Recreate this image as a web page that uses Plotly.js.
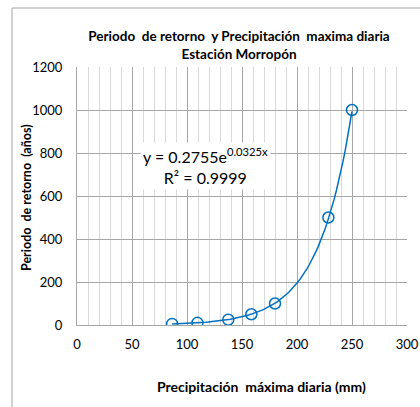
<!DOCTYPE html>
<html>
<head>
<meta charset="utf-8">
<script src="https://cdn.plot.ly/plotly-3.0.1.min.js"></script>
<style>html,body{margin:0;padding:0;background:#fff;}#chart{width:420px;height:407px;}</style>
</head>
<body>
<div id="chart"></div>
<script>
// Data
const precipitacion = [86.5, 109.5, 137.5, 158.5, 180, 228.5, 250];   // mm
const periodoRetorno = [5, 10, 25, 50, 100, 500, 1000];               // años
const xTicks = [0, 50, 100, 150, 200, 250, 300];
const yTicks = [0, 200, 400, 600, 800, 1000, 1200];
const equationLabel = 'y = 0.2755e<sup>0.0325x</sup>';
const r2Label = 'R² = 0.9999';

// Exponential trendline (least squares on ln y), as the spreadsheet does
const n = precipitacion.length;
const ly = periodoRetorno.map(v => Math.log(v));
const mx = precipitacion.reduce((s, v) => s + v, 0) / n;
const my = ly.reduce((s, v) => s + v, 0) / n;
let sxy = 0, sxx = 0;
for (let i = 0; i < n; i++) { sxy += (precipitacion[i] - mx) * (ly[i] - my); sxx += (precipitacion[i] - mx) ** 2; }
const b = sxy / sxx, lnA = my - b * mx;
const xMin = Math.min(...precipitacion), xMax = Math.max(...precipitacion);
const trendX = [], trendY = [];
for (let k = 0; k <= 80; k++) { const x = xMin + (xMax - xMin) * k / 80; trendX.push(x); trendY.push(Math.exp(lnA + b * x)); }

const blue = '#0070C0';
const font = 'Lato, "Open Sans", sans-serif';

const traces = [
  { x: trendX, y: trendY, mode: 'lines', line: { color: blue, width: 1.5 }, hoverinfo: 'skip', showlegend: false },
  { x: precipitacion, y: periodoRetorno, mode: 'markers',
    marker: { symbol: 'circle-open', size: 11, color: blue, line: { color: blue, width: 1.5 } }, showlegend: false }
];

const L = 77, R = 13, T = 67, B = 82, W = 420, H = 407;
const pw = W - L - R, ph = H - T - B;
const px = v => (v - L) / pw;
const py = v => (H - B - v) / ph;

const layout = {
  width: W, height: H,
  margin: { l: L, r: R, t: T, b: B },
  paper_bgcolor: '#fff', plot_bgcolor: '#fff',
  font: { family: font, size: 13, color: '#000' },
  showlegend: false,
  title: { text: '<b>Periodo  de retorno  y Precipitación  maxima diaria</b><br><b>Estación Morropón</b>',
           font: { family: font, size: 13.5, color: '#000' }, x: px(239), xref: 'paper', xanchor: 'center',
           y: 1 - 41 / H, yref: 'container', yanchor: 'middle' },
  xaxis: {
    range: [0, 300], tickvals: xTicks, ticktext: xTicks.map(String),
    showgrid: true, gridcolor: '#a6a6a6', gridwidth: 1,
    minor: { dtick: 10, showgrid: true, gridcolor: '#d9d9d9', gridwidth: 1 },
    showline: true, linecolor: '#a6a6a6', linewidth: 1, zeroline: false,
    ticks: '', ticklabelstandoff: 7, tickfont: { family: font, size: 13, color: '#000' }, fixedrange: true
  },
  yaxis: {
    range: [0, 1200], tickvals: yTicks, ticktext: yTicks.map(String),
    showgrid: true, gridcolor: '#a6a6a6', gridwidth: 1,
    showline: true, linecolor: '#a6a6a6', linewidth: 1, zeroline: false,
    ticks: '', ticklabelstandoff: 11, tickfont: { family: font, size: 13, color: '#000' }, fixedrange: true
  },
  shapes: [
    { type: 'rect', xref: 'paper', yref: 'paper', x0: px(12), x1: px(430), y0: py(420), y1: py(8),
      line: { color: '#a6a6a6', width: 1 }, fillcolor: 'rgba(0,0,0,0)', layer: 'below' }
  ],
  annotations: [
    { xref: 'paper', yref: 'paper', x: px(26), y: py(198), text: '<b>Periodo  de retorno  (años)</b>', textangle: -90,
      showarrow: false, font: { family: font, size: 12.5, color: '#000' }, xanchor: 'center', yanchor: 'middle' },
    { xref: 'paper', yref: 'paper', x: px(261), y: py(386), text: '<b>Precipitación  máxima diaria (mm)</b>',
      showarrow: false, font: { family: font, size: 14, color: '#000' }, xanchor: 'center', yanchor: 'middle' },
    { xref: 'paper', yref: 'paper', x: px(205), y: py(166), text: equationLabel + '<br>' + r2Label,
      showarrow: false, font: { family: font, size: 16, color: '#000' }, bgcolor: '#fff', borderpad: 2,
      xanchor: 'center', yanchor: 'middle', align: 'center' }
  ]
};

Plotly.newPlot('chart', traces, layout, { displayModeBar: false, staticPlot: true });
</script>
</body>
</html>
